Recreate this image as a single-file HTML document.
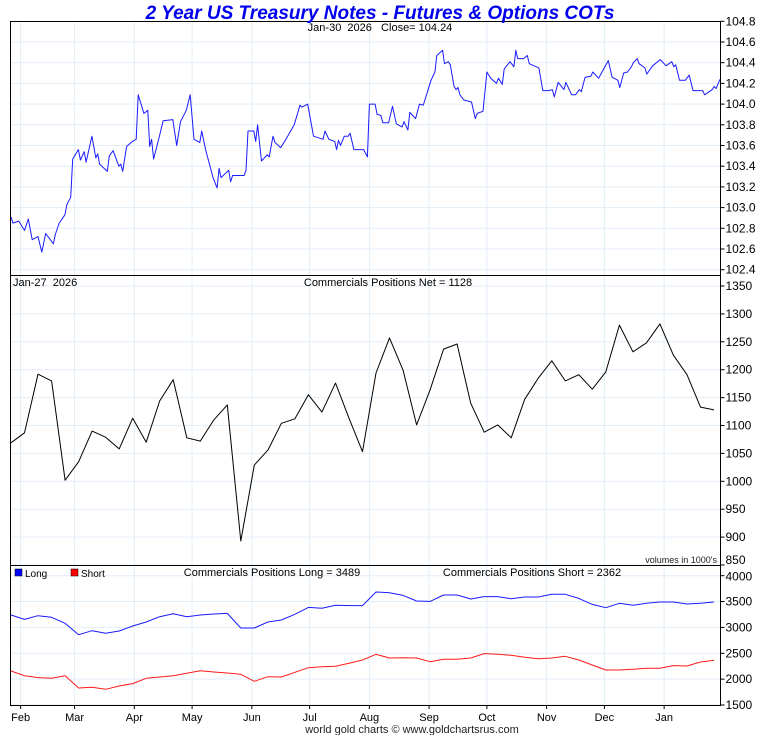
<!DOCTYPE html>
<html><head><meta charset="utf-8"><style>
html,body{margin:0;padding:0;background:#fff;width:760px;height:735px;overflow:hidden}
svg{display:block;font-family:"Liberation Sans",sans-serif}
</style></head><body>
<svg id="chart" width="760" height="735">
<g id="plot"></g>
<text x="380" y="19" text-anchor="middle" font-size="19" font-weight="bold" font-style="italic" fill="#0000ee">2 Year US Treasury Notes - Futures &amp; Options COTs</text>
<text x="380" y="31" text-anchor="middle" font-size="11" fill="#000" xml:space="preserve">Jan-30  2026   Close= 104.24</text>
<text x="13" y="286" font-size="11" fill="#000" xml:space="preserve">Jan-27  2026</text>
<text x="388" y="286" text-anchor="middle" font-size="11">Commercials Positions Net = 1128</text>
<text x="717" y="563" text-anchor="end" font-size="9" fill="#222">volumes in 1000's</text>
<rect x="15" y="569" width="7" height="7" fill="#0000ff" stroke="#000" stroke-width="0.5"/>
<text x="25" y="577" font-size="10">Long</text>
<rect x="71" y="569" width="7" height="7" fill="#ff0000" stroke="#000" stroke-width="0.5"/>
<text x="81" y="577" font-size="10">Short</text>
<text x="272" y="576" text-anchor="middle" font-size="11">Commercials Positions Long = 3489</text>
<text x="532" y="576" text-anchor="middle" font-size="11">Commercials Positions Short = 2362</text>
<text x="412" y="733" text-anchor="middle" font-size="11" fill="#222">world gold charts © www.goldchartsrus.com</text>
</svg>
<script>
const priceDays=[0,1,4,7,9,11,14,16,18,22,23,25,28,29,31,32,35,36,38,39,42,44,45,46,50,51,53,56,57,58,60,63,65,66,69,71,72,73,74,77,79,84,86,88,91,93,95,98,99,101,105,107,108,109,113,114,115,121,122,123,126,127,128,130,133,134,136,137,140,143,147,150,151,154,157,162,163,165,168,169,170,171,173,175,176,178,183,185,186,189,190,192,193,196,198,200,203,204,206,207,210,212,214,218,220,221,224,225,227,228,230,231,232,233,235,239,241,242,245,247,249,252,253,255,256,259,261,262,263,266,268,269,274,276,279,281,282,284,287,288,291,293,295,296,298,301,302,305,310,312,315,316,318,320,322,323,325,326,329,330,333,337,340,343,344,345,347,350,352,354,359,360,364,365,366,368];
const priceVals=[102.91,102.85,102.87,102.78,102.89,102.69,102.72,102.57,102.75,102.65,102.74,102.85,102.93,103.03,103.10,103.47,103.56,103.46,103.54,103.44,103.69,103.48,103.52,103.42,103.35,103.50,103.55,103.40,103.42,103.35,103.59,103.64,103.66,104.09,103.91,103.94,103.59,103.66,103.47,103.69,103.84,103.85,103.60,103.83,103.94,104.09,103.66,103.63,103.74,103.56,103.28,103.19,103.38,103.29,103.36,103.25,103.31,103.31,103.36,103.74,103.74,103.64,103.80,103.45,103.51,103.49,103.69,103.63,103.58,103.67,103.80,103.99,103.97,104.00,103.69,103.66,103.74,103.66,103.64,103.56,103.65,103.60,103.69,103.69,103.72,103.56,103.56,103.49,104.00,104.00,103.90,103.89,103.82,103.82,103.98,103.81,103.78,103.83,103.75,103.92,103.86,104.00,103.99,104.23,104.31,104.47,104.52,104.39,104.41,104.38,104.17,104.14,104.16,104.09,104.04,104.02,103.86,103.91,103.93,104.31,104.25,104.20,104.25,104.19,104.34,104.41,104.36,104.52,104.44,104.44,104.47,104.39,104.35,104.13,104.13,104.14,104.07,104.21,104.14,104.21,104.09,104.09,104.14,104.12,104.26,104.27,104.31,104.25,104.42,104.26,104.23,104.16,104.30,104.31,104.36,104.40,104.44,104.39,104.35,104.29,104.37,104.43,104.37,104.41,104.36,104.38,104.23,104.23,104.28,104.13,104.13,104.09,104.14,104.17,104.15,104.24];
const netVals=[1069,1087,1192,1180,1002,1035,1090,1079,1058,1113,1070,1144,1182,1078,1072,1110,1137,893,1029,1056,1104,1112,1155,1124,1176,1113,1053,1194,1257,1199,1101,1164,1237,1246,1140,1088,1101,1078,1147,1185,1216,1180,1191,1165,1196,1280,1232,1248,1282,1226,1191,1133,1128];
const longVals=[3240,3156,3227,3195,3079,2860,2937,2886,2931,3028,3105,3208,3266,3208,3240,3260,3272,2989,2989,3105,3144,3253,3388,3369,3427,3421,3421,3685,3672,3620,3511,3504,3627,3627,3550,3595,3595,3556,3588,3588,3640,3640,3562,3446,3382,3466,3427,3466,3491,3491,3453,3466,3491];
const shortVals=[2158,2067,2029,2016,2067,1829,1842,1803,1868,1913,2016,2042,2067,2112,2164,2138,2119,2093,1958,2048,2042,2132,2222,2241,2248,2306,2370,2480,2409,2415,2409,2338,2383,2383,2409,2493,2480,2460,2422,2396,2409,2441,2370,2274,2177,2177,2190,2209,2209,2261,2255,2331,2364];
const months=["Feb","Mar","Apr","May","Jun","Jul","Aug","Sep","Oct","Nov","Dec","Jan"];
const monthDays=[5,33,64,94,125,155,186,217,247,278,308,339];
const priceTicks=[102.4,102.6,102.8,103.0,103.2,103.4,103.6,103.8,104.0,104.2,104.4,104.6,104.8];
const netTicks=[850,900,950,1000,1050,1100,1150,1200,1250,1300,1350];
const volTicks=[1500,2000,2500,3000,3500,4000];

const NS="http://www.w3.org/2000/svg";
const plot=document.getElementById('plot');
const L=10.5,R=720.5;
const xDay=d=>L+0.5+d*(709/368);
const xWeek=i=>11+i*(703/(netVals.length-1));
const yPrice=v=>21.3+(104.8-v)*103.5;
const yNet=v=>286+(1350-v)*(27.9/50);
const yVol=v=>575.7+(4000-v)*(129.3/2500);
function add(tag,attrs){const e=document.createElementNS(NS,tag);for(const k in attrs)e.setAttribute(k,attrs[k]);plot.appendChild(e);return e;}

const panels=[[21.5,275.5,priceTicks,yPrice,v=>v.toFixed(1)],[275.5,565.5,netTicks,yNet,v=>String(v)],[565.5,705.5,volTicks,yVol,v=>String(v)]];
panels.forEach((p,pi)=>{
  monthDays.forEach(d=>{
    const g=add('line',{x1:xDay(d),x2:xDay(d),y1:p[0],y2:p[1],stroke:'#e2eef8','stroke-width':1});
    
    
  });
  p[2].forEach(t=>{
    const y=p[3](t);
    const g=add('line',{x1:L,x2:R,y1:y,y2:y,stroke:'#e2eef8','stroke-width':1});
    
    
    const tk=add('line',{x1:R,x2:R+4,y1:y,y2:y,stroke:'#000'});
    
    
    let ty=y+4;
    if(pi===1&&t===850)ty=y-1;
    if(pi===2&&t===4000)ty=y+5;
    const lb=add('text',{x:R+5,y:ty,'font-size':12,fill:'#000'});
    lb.textContent=p[4](t);
    
    
  });
});
months.forEach((m,i)=>{
  const x=xDay(monthDays[i]);
  const tk=add('line',{x1:x,x2:x,y1:705.5,y2:709,stroke:'#000'});
  
  
  const t=add('text',{x:x,y:721,'text-anchor':'middle','font-size':11});
  t.textContent=m;
  
  
});
function line(xs,ys,color,name){
  const pts=xs.map((x,i)=>x.toFixed(1)+','+ys[i].toFixed(1)).join(' ');
  const e=add('polyline',{points:pts,fill:'none',stroke:color,'stroke-width':1,'stroke-linejoin':'round'});
  
  
}
line(priceDays.map(xDay),priceVals.map(yPrice),'#1a1aff','price-line');
line(netVals.map((v,i)=>xWeek(i)),netVals.map(yNet),'#000','net-line');
line(longVals.map((v,i)=>xWeek(i)),longVals.map(yVol),'#1a1aff','long-line');
line(shortVals.map((v,i)=>xWeek(i)),shortVals.map(yVol),'#ff1a1a','short-line');
panels.forEach(p=>{
  const b=add('rect',{x:L,y:p[0],width:R-L,height:p[1]-p[0],fill:'none',stroke:'#000','stroke-width':1});
  
  
});
</script>
</body></html>
